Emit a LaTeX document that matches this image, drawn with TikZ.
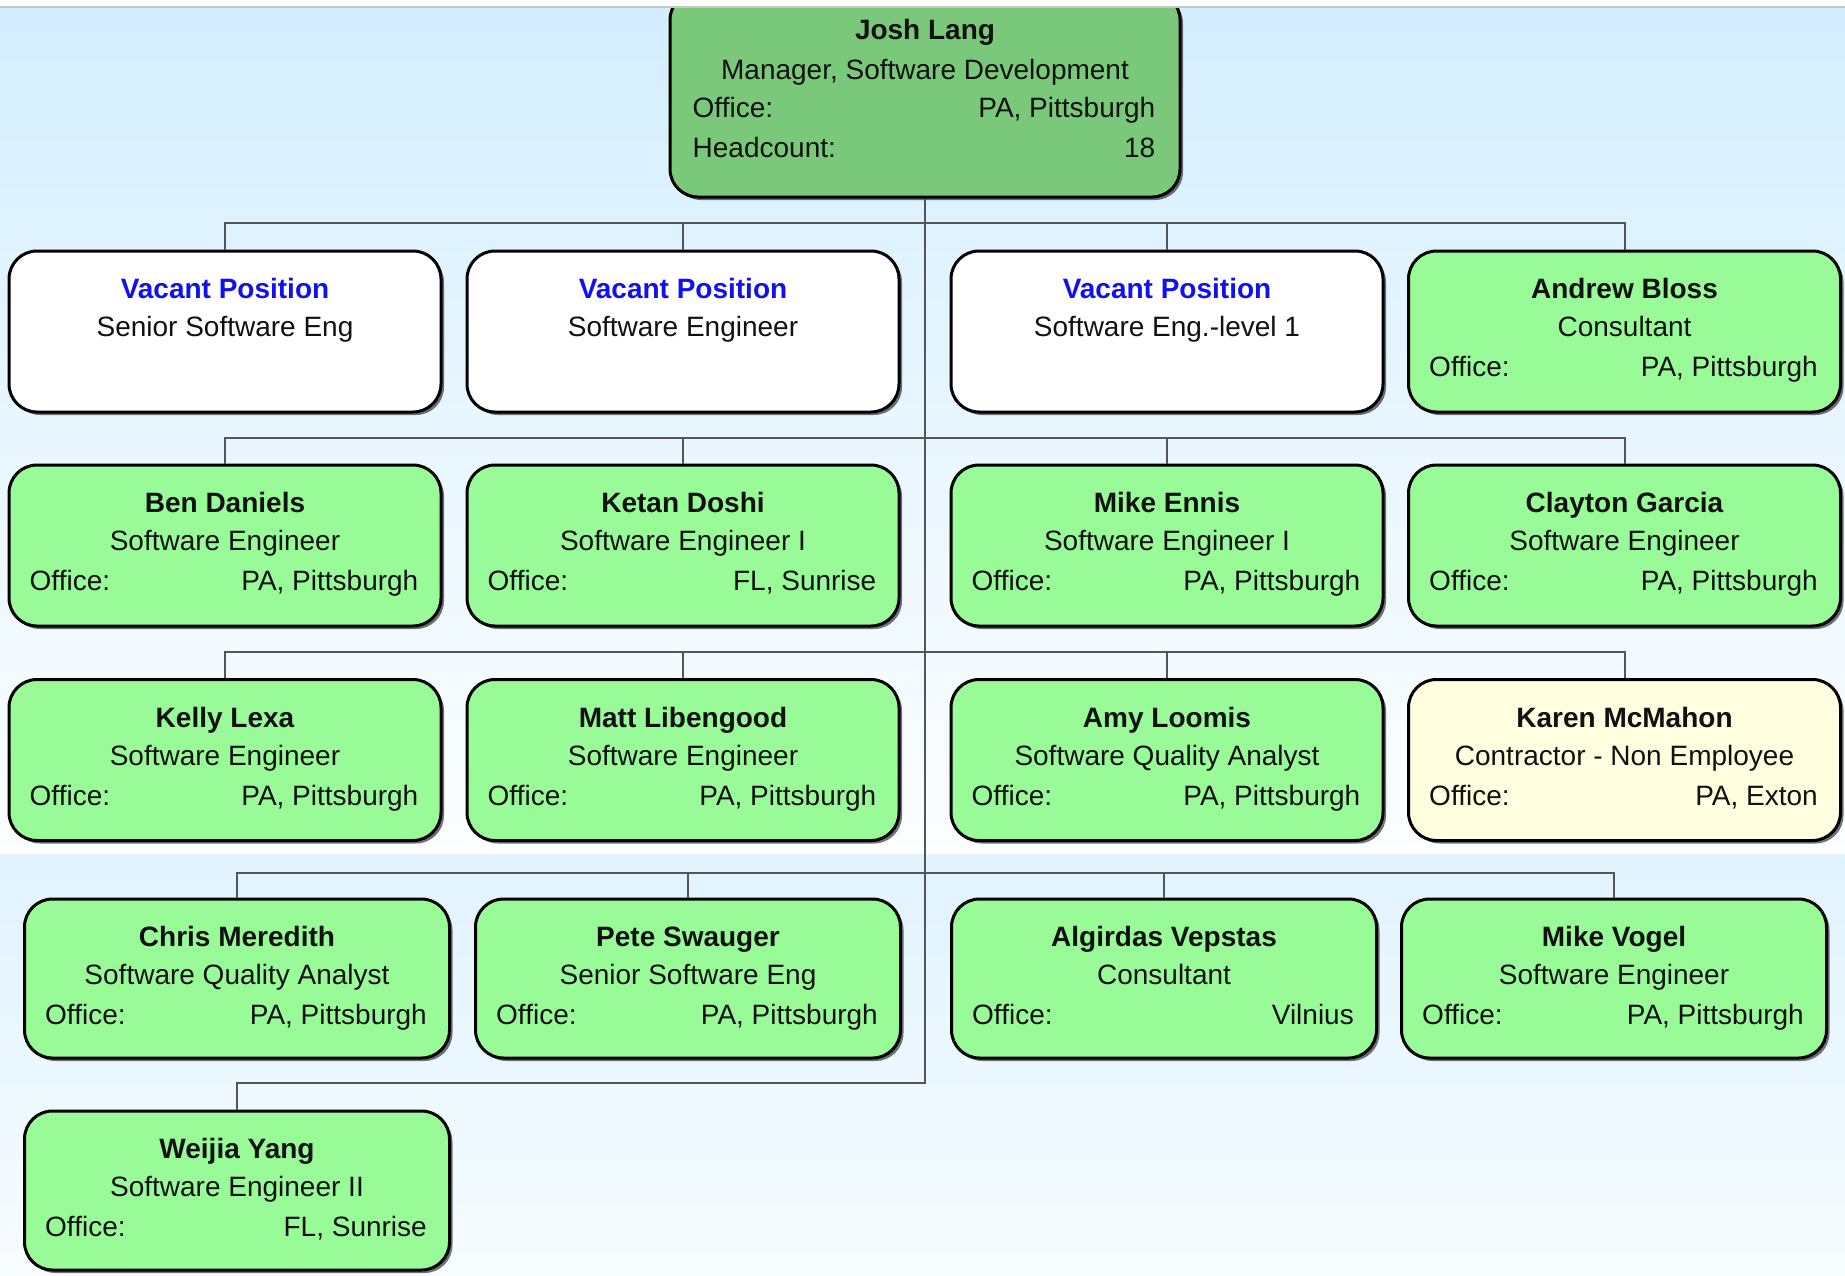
\documentclass[tikz,border=0pt]{standalone}
\usepackage{fontspec}
\setmainfont{Liberation Sans}
\usetikzlibrary{shadows}
\definecolor{pgreen}{HTML}{98FB98}
\definecolor{dgreen}{HTML}{7AC97A}
\definecolor{pyellow}{HTML}{FFFFE0}
\definecolor{vblue}{HTML}{1010F0}
\definecolor{bgA}{HTML}{D4EEFF}
\definecolor{bgB}{HTML}{FCFEFF}
\definecolor{bgC}{HTML}{E0F3FF}
\definecolor{bgD}{HTML}{F7FCFF}
\definecolor{conncol}{HTML}{555555}
\definecolor{txt}{HTML}{111111}
\tikzset{
 cardbase/.style={draw=black, line width=3pt, rounded corners=28pt, inner sep=0pt,
   drop shadow={shadow xshift=3pt, shadow yshift=-3pt, fill=black, opacity=0.55}},
 cardA/.style={cardbase, minimum width=432pt, minimum height=161pt},
 cardB/.style={cardbase, minimum width=425pt, minimum height=159pt},
 nametext/.style={anchor=base, inner sep=0pt, font=\fontsize{28}{34}\selectfont\bfseries, text=txt},
 titletext/.style={anchor=base, inner sep=0pt, font=\fontsize{28}{34}\selectfont, text=txt},
 offtext/.style={inner sep=0pt, font=\fontsize{28}{34}\selectfont, text=txt},
 conn/.style={draw=conncol, line width=2pt},
}
\newcommand\orgcard[7]{%
 \node[#2] (#1) at (#3,#4) {};
 \node[nametext] (#1n) at ([yshift=-49pt]#1.north) {#5};
 \node[titletext] (#1t) at ([yshift=-87pt]#1.north) {#6};
 \if\relax\detokenize{#7}\relax\else
 \node[offtext, anchor=base west] (#1o) at ([xshift=22pt,yshift=-127pt]#1.north west) {Office:};
 \node[offtext, anchor=base east] (#1v) at ([xshift=-24pt,yshift=-127pt]#1.north east) {#7};
 \fi}
\begin{document}
\begin{tikzpicture}[x=1pt,y=-1pt]
\useasboundingbox (0,0) rectangle (1845,1275);
\fill[white] (0,0) rectangle (1845,1275);
\shade[top color=bgA, bottom color=bgB] (0,7) rectangle (1845,854);
\shade[top color=bgC, bottom color=bgD] (0,854) rectangle (1845,1275);

% manager
\node[cardbase, fill=dgreen, minimum width=510pt, minimum height=205pt] (josh) at (925,94.5) {};
\node[nametext] (joshn) at ([yshift=-49pt]josh.north) {Josh Lang};
\node[titletext] (josht) at ([yshift=-89pt]josh.north) {Manager, Software Development};
\node[offtext, anchor=base west] (josho) at ([xshift=24pt,yshift=-127pt]josh.north west) {Office:};
\node[offtext, anchor=base east] (joshv) at ([xshift=-26pt,yshift=-127pt]josh.north east) {PA, Pittsburgh};
\node[offtext, anchor=base west] (joshh) at ([xshift=24pt,yshift=-167pt]josh.north west) {Headcount:};
\node[offtext, anchor=base east] (joshc) at ([xshift=-26pt,yshift=-167pt]josh.north east) {18};

% top strip
\fill[white] (0,0) rectangle (1845,6);
\draw[color=black!22, line width=2pt] (0,7) -- (1845,7);

% trunk coordinates
\coordinate (t1) at (925,223);
\coordinate (t2) at (925,438);
\coordinate (t3) at (925,652);
\coordinate (t4) at (925,873);
\coordinate (t5) at (925,1083);

% row 1
\orgcard{a1}{cardA, fill=white}{225}{331.5}{\textcolor{vblue}{Vacant Position}}{Senior Software Eng}{}
\orgcard{a2}{cardA, fill=white}{683}{331.5}{\textcolor{vblue}{Vacant Position}}{Software Engineer}{}
\orgcard{a3}{cardA, fill=white}{1167}{331.5}{\textcolor{vblue}{Vacant Position}}{Software Eng.-level 1}{}
\orgcard{a4}{cardA, fill=pgreen}{1624.5}{331.5}{Andrew Bloss}{Consultant}{PA, Pittsburgh}
% row 2
\orgcard{b1}{cardA, fill=pgreen}{225}{545.5}{Ben Daniels}{Software Engineer}{PA, Pittsburgh}
\orgcard{b2}{cardA, fill=pgreen}{683}{545.5}{Ketan Doshi}{Software Engineer I}{FL, Sunrise}
\orgcard{b3}{cardA, fill=pgreen}{1167}{545.5}{Mike Ennis}{Software Engineer I}{PA, Pittsburgh}
\orgcard{b4}{cardA, fill=pgreen}{1624.5}{545.5}{Clayton Garcia}{Software Engineer}{PA, Pittsburgh}
% row 3
\orgcard{c1}{cardA, fill=pgreen}{225}{760}{Kelly Lexa}{Software Engineer}{PA, Pittsburgh}
\orgcard{c2}{cardA, fill=pgreen}{683}{760}{Matt Libengood}{Software Engineer}{PA, Pittsburgh}
\orgcard{c3}{cardA, fill=pgreen}{1167}{760}{Amy Loomis}{Software Quality Analyst}{PA, Pittsburgh}
\orgcard{c4}{cardA, fill=pyellow}{1624.5}{760}{Karen McMahon}{Contractor - Non Employee}{PA, Exton}
% row 4
\orgcard{d1}{cardB, fill=pgreen}{237}{978.5}{Chris Meredith}{Software Quality Analyst}{PA, Pittsburgh}
\orgcard{d2}{cardB, fill=pgreen}{688}{978.5}{Pete Swauger}{Senior Software Eng}{PA, Pittsburgh}
\orgcard{d3}{cardB, fill=pgreen}{1164}{978.5}{Algirdas Vepstas}{Consultant}{Vilnius}
\orgcard{d4}{cardB, fill=pgreen}{1614}{978.5}{Mike Vogel}{Software Engineer}{PA, Pittsburgh}
% row 5
\orgcard{e1}{cardB, fill=pgreen}{237}{1190.5}{Weijia Yang}{Software Engineer II}{FL, Sunrise}

% connectors
\draw[conn] (josh.south) -- (t5) -| (e1.north);
\foreach \r/\t in {a/t1,b/t2,c/t3,d/t4}{
  \foreach \k in {1,2,3,4}{
    \draw[conn] (\r\k.north) |- (\t);
  }
}
\end{tikzpicture}
\end{document}
